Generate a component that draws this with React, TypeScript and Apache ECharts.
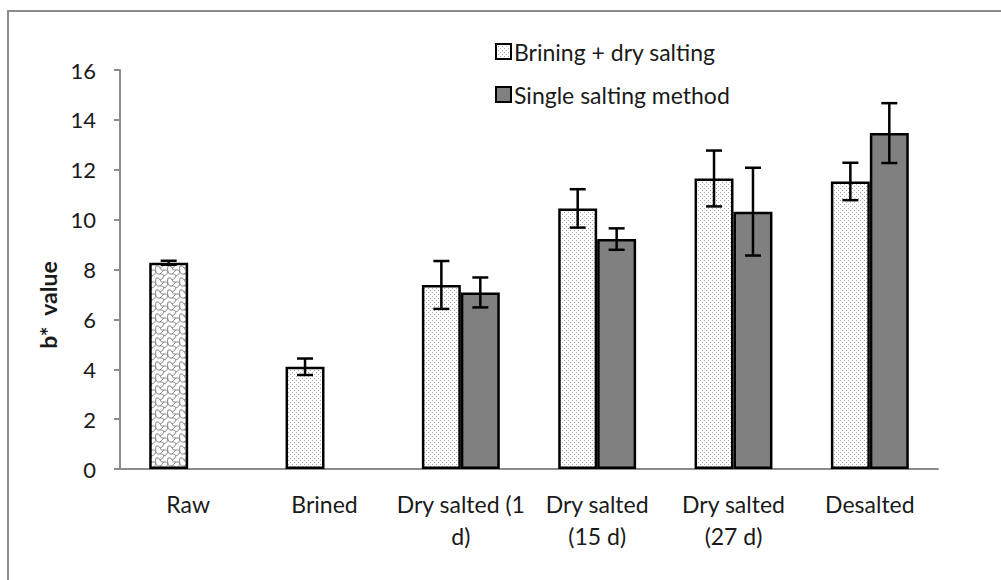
import React, { useEffect, useRef } from "react";
import * as echarts from "echarts";

const categories = [
  "Raw",
  "Brined",
  "Dry salted (1\nd)",
  "Dry salted\n(15 d)",
  "Dry salted\n(27 d)",
  "Desalted",
];
const briningDry = [8.27, 4.1, 7.38, 10.45, 11.65, 11.53];
const briningDryErr = [0.08, 0.33, 0.96, 0.77, 1.12, 0.75];
const singleSalting: (number | null)[] = [null, null, 7.08, 9.22, 10.32, 13.47];
const singleSaltingErr: (number | null)[] = [null, null, 0.6, 0.43, 1.76, 1.2];
const seriesNames = ["Brining + dry salting", "Single salting method"];
const yMin = 0;
const yMax = 16;
const yInterval = 2;

function dotPattern() {
  const c = document.createElement("canvas");
  c.width = 4;
  c.height = 4;
  const g = c.getContext("2d")!;
  g.fillStyle = "#ffffff";
  g.fillRect(0, 0, 4, 4);
  g.fillStyle = "#a8a8a8";
  g.fillRect(0, 0, 1, 1);
  g.fillRect(2, 2, 1, 1);
  return { image: c, repeat: "repeat", imageWidth: 4, imageHeight: 4 } as any;
}

function scalePattern() {
  const w = 12;
  const h = 12;
  const c = document.createElement("canvas");
  c.width = w;
  c.height = h;
  const g = c.getContext("2d")!;
  g.fillStyle = "#ffffff";
  g.fillRect(0, 0, w, h);
  g.strokeStyle = "#8a8a8a";
  g.lineWidth = 1;
  g.beginPath();
  g.moveTo(0, 2);
  g.quadraticCurveTo(3, 1, 4, 4);
  g.quadraticCurveTo(5, 7, 8, 6);
  g.quadraticCurveTo(11, 5, 12, 8);
  g.moveTo(0, 8);
  g.quadraticCurveTo(1, 11, 4, 10);
  g.quadraticCurveTo(7, 9, 8, 12);
  g.moveTo(4, 4);
  g.quadraticCurveTo(7, 3, 8, 0);
  g.moveTo(8, 6);
  g.quadraticCurveTo(5, 9, 4, 10);
  g.moveTo(8, 12);
  g.quadraticCurveTo(11, 11, 12, 8);
  g.moveTo(0, 2);
  g.quadraticCurveTo(-1, 5, 0, 8);
  g.moveTo(12, 2);
  g.quadraticCurveTo(11, 5, 12, 8);
  g.stroke();
  return { image: c, repeat: "repeat", imageWidth: w, imageHeight: h } as any;
}

export default function App() {
  const ref = useRef<HTMLDivElement>(null);
  useEffect(() => {
    if (!ref.current) return;
    const chart = echarts.init(ref.current, null, { renderer: "svg" });
    const dots = dotPattern();
    const scales = scalePattern();
    const font = "Lato";
    const textColor = "#1a1a1a";

    const errData = (vals: (number | null)[], errs: (number | null)[]) =>
      vals
        .map((v, i) => (v == null || errs[i] == null ? null : [i, v, errs[i]]))
        .filter((d) => d != null);

    const makeErr = (idx: number, vals: (number | null)[], errs: (number | null)[]) => ({
      type: "custom",
      name: "err" + idx,
      z: 10,
      silent: true,
      data: errData(vals, errs),
      renderItem: (params: any, api: any) => {
        const i = api.value(0);
        const v = api.value(1);
        const e = api.value(2);
        const c = api.coord([i, v]);
        const catW = api.size([1, 0])[0];
        const bw = catW / 3.5;
        const x = c[0] + (idx === 0 ? -bw / 2 : bw / 2);
        const yt = api.coord([i, v + e])[1];
        const yb = api.coord([i, v - e])[1];
        const hw = 8;
        const st = { stroke: "#000", lineWidth: 2.5 };
        return {
          type: "group",
          children: [
            { type: "line", shape: { x1: x, y1: yt, x2: x, y2: yb }, style: st },
            { type: "line", shape: { x1: x - hw, y1: yt, x2: x + hw, y2: yt }, style: st },
            { type: "line", shape: { x1: x - hw, y1: yb, x2: x + hw, y2: yb }, style: st },
          ],
        };
      },
    });

    chart.setOption({
      animation: false,
      backgroundColor: "#ffffff",
      graphic: [
        {
          type: "rect",
          shape: { x: 8, y: 11, width: 1200, height: 800 },
          style: { fill: "none", stroke: "#8c8c8c", lineWidth: 2 },
          z: -10,
        },
        {
          type: "text",
          x: 48,
          y: 305,
          rotation: Math.PI / 2,
          style: {
            text: "b*  value",
            font: `bold 23px ${font}`,
            fill: textColor,
            textAlign: "center",
            textVerticalAlign: "middle",
          },
        },
      ],
      legend: {
        orient: "vertical",
        left: 490,
        top: 35,
        icon: "rect",
        itemWidth: 15,
        itemHeight: 15,
        itemGap: 20,
        data: seriesNames,
        textStyle: { fontFamily: font, fontSize: 23, color: textColor, padding: [0, 0, 0, -2] },
      },
      grid: { left: 120, right: 63, top: 70, bottom: 111, containLabel: false },
      xAxis: {
        type: "category",
        data: categories,
        axisLine: { lineStyle: { color: "#8c8c8c", width: 2 } },
        axisTick: { length: 6, lineStyle: { color: "#8c8c8c", width: 2 } },
        axisLabel: {
          fontFamily: font,
          fontSize: 23,
          color: textColor,
          margin: 19,
          lineHeight: 32,
          interval: 0,
        },
      },
      yAxis: {
        type: "value",
        min: yMin,
        max: yMax,
        interval: yInterval,
        splitLine: { show: false },
        axisLine: { show: true, lineStyle: { color: "#8c8c8c", width: 2 } },
        axisTick: { show: true, length: 6, lineStyle: { color: "#8c8c8c", width: 2 } },
        axisLabel: { fontFamily: font, fontSize: 22, color: textColor, margin: 24 },
      },
      series: [
        {
          type: "bar",
          name: seriesNames[0],
          barGap: "0%",
          barCategoryGap: "42.857%",
          itemStyle: { color: dots, borderColor: "#000", borderWidth: 2.5 },
          data: briningDry.map((v, i) =>
            i === 0 ? { value: v, itemStyle: { color: scales } } : v
          ),
        },
        {
          type: "bar",
          name: seriesNames[1],
          barGap: "0%",
          barCategoryGap: "42.857%",
          itemStyle: { color: "#808080", borderColor: "#000", borderWidth: 2.5 },
          data: singleSalting,
        },
        makeErr(0, briningDry, briningDryErr),
        makeErr(1, singleSalting, singleSaltingErr),
      ],
    } as any);
    return () => chart.dispose();
  }, []);
  return (
    <div
      ref={ref}
      style={{ position: "absolute", left: 0, top: 0, width: 1001, height: 580 }}
    />
  );
}
